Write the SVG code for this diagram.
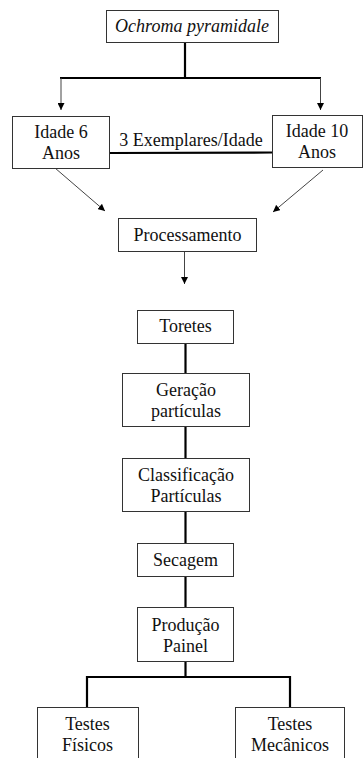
<svg xmlns="http://www.w3.org/2000/svg" width="363" height="758" viewBox="0 0 363 758">
  <style>
    .box { fill: #fff; stroke: #333; stroke-width: 1; }
    .lbl { font-size: 18px; fill: #111; text-anchor: middle; }
    .thick { stroke: #000; stroke-width: 2.2; fill: none; }
    .thin { stroke: #444; stroke-width: 1; fill: none; }
  </style>
  <defs>
    <marker id="arrow" viewBox="0 0 10 10" refX="10" refY="5" markerWidth="7" markerHeight="7" markerUnits="userSpaceOnUse" orient="auto">
      <path d="M0,0 L10,5 L0,10 z" fill="#000"/>
    </marker>
  </defs>

  <rect width="363" height="758" fill="#fff"/>

  <g id="connectors">
    <!-- species to age split -->
    <line class="thick" x1="185" y1="42" x2="185" y2="78"/>
    <line class="thick" x1="60" y1="78" x2="321" y2="78"/>
    <line class="thin" x1="61" y1="78" x2="61" y2="110" marker-end="url(#arrow)"/>
    <line class="thin" x1="320.5" y1="78" x2="320.5" y2="110" marker-end="url(#arrow)"/>
    <!-- link between ages -->
    <line class="thick" x1="110" y1="153" x2="272" y2="152.5"/>
    <!-- ages to processing -->
    <line class="thin" x1="55" y1="168" x2="105" y2="211" marker-end="url(#arrow)"/>
    <line class="thin" x1="323" y1="170" x2="273" y2="212" marker-end="url(#arrow)"/>
    <line class="thin" x1="184.5" y1="251" x2="184.5" y2="284" marker-end="url(#arrow)"/>
    <!-- processing chain -->
    <line class="thick" x1="185.5" y1="343" x2="185.5" y2="373"/>
    <line class="thick" x1="185.5" y1="427" x2="185.5" y2="458"/>
    <line class="thick" x1="185.5" y1="512" x2="185.5" y2="543"/>
    <line class="thick" x1="185.5" y1="576" x2="185.5" y2="607"/>
    <line class="thick" x1="185.5" y1="662" x2="185.5" y2="677"/>
    <path class="thick" d="M87,707 V677 H290 V707"/>
  </g>

  <g font-family="Liberation Serif, Times New Roman, serif">
  <g id="species">
    <rect class="box" x="106.5" y="10.5" width="172" height="32"/>
    <text class="lbl" x="192" y="31.5" font-style="italic">Ochroma pyramidale</text>
  </g>

  <g id="age6">
    <rect class="box" x="12.5" y="116.5" width="97" height="52"/>
    <text class="lbl" x="61" y="138">Idade 6</text>
    <text class="lbl" x="61" y="159">Anos</text>
  </g>

  <g id="age10">
    <rect class="box" x="272.5" y="115.5" width="90" height="52"/>
    <text class="lbl" x="317" y="137">Idade 10</text>
    <text class="lbl" x="317" y="158">Anos</text>
  </g>

  <g id="samples-label">
    <text class="lbl" x="191" y="146">3 Exemplares/Idade</text>
  </g>

  <g id="processamento">
    <rect class="box" x="118.5" y="218.5" width="138" height="33"/>
    <text class="lbl" x="187.5" y="240.5">Processamento</text>
  </g>

  <g id="toretes">
    <rect class="box" x="137.5" y="310.5" width="96" height="33"/>
    <text class="lbl" x="185.5" y="332">Toretes</text>
  </g>

  <g id="geracao">
    <rect class="box" x="122.5" y="373.5" width="127" height="53"/>
    <text class="lbl" x="186" y="396">Geração</text>
    <text class="lbl" x="186" y="417">partículas</text>
  </g>

  <g id="classificacao">
    <rect class="box" x="122.5" y="458.5" width="127" height="53"/>
    <text class="lbl" x="186" y="481">Classificação</text>
    <text class="lbl" x="186" y="502">Partículas</text>
  </g>

  <g id="secagem">
    <rect class="box" x="137.5" y="543.5" width="96" height="33"/>
    <text class="lbl" x="185.5" y="566">Secagem</text>
  </g>

  <g id="producao">
    <rect class="box" x="137.5" y="607.5" width="96" height="54"/>
    <text class="lbl" x="185.5" y="631">Produção</text>
    <text class="lbl" x="185.5" y="652">Painel</text>
  </g>

  <g id="testes-fisicos">
    <rect class="box" x="37.5" y="707.5" width="101" height="60"/>
    <text class="lbl" x="87.5" y="730">Testes</text>
    <text class="lbl" x="87.5" y="751">Físicos</text>
  </g>

  <g id="testes-mecanicos">
    <rect class="box" x="235.5" y="707.5" width="109" height="60"/>
    <text class="lbl" x="290" y="730">Testes</text>
    <text class="lbl" x="290" y="751">Mecânicos</text>
  </g>
  </g>
</svg>
